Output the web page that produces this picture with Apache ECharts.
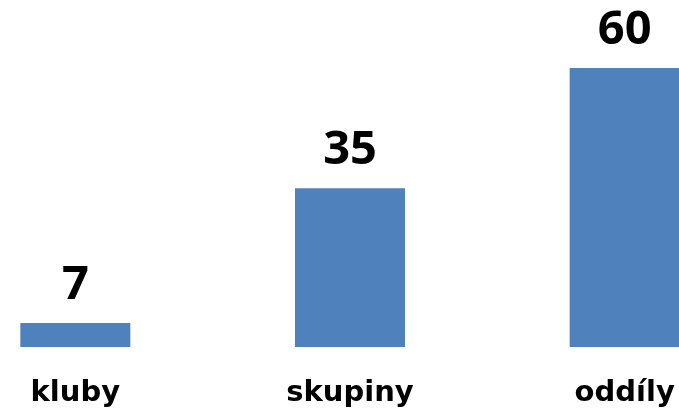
<!DOCTYPE html>
<html>
<head>
<meta charset="utf-8">
<script src="https://cdn.jsdelivr.net/npm/echarts@6/dist/echarts.min.js"></script>
<style>
  html, body { margin: 0; padding: 0; background: #fff; }
  #chart { width: 679px; height: 411px; }
</style>
</head>
<body>
<div id="chart"></div>
<script>
var categories = ["kluby", "skupiny", "oddíly"];
var counts = [7, 35, 60];

var myChart = echarts.init(document.getElementById("chart"));
var option = {
  animation: false,
  grid: { left: -62, width: 824, top: 68, bottom: 64, outerBoundsMode: "none", containLabel: false },
  xAxis: {
    type: "category",
    data: categories,
    axisLine: { show: false },
    axisTick: { show: false },
    axisLabel: {
      margin: 32,
      color: "#000",
      fontFamily: "DejaVu Sans",
      fontWeight: "bold",
      fontSize: 29
    }
  },
  yAxis: {
    type: "value",
    min: 2,
    max: 60,
    show: false,
    splitLine: { show: false }
  },
  series: [
    {
      type: "bar",
      data: counts,
      barWidth: 110,
      itemStyle: { color: "#4F81BD" },
      label: {
        show: true,
        position: "top",
        distance: 14,
        color: "#000",
        fontFamily: "Open Sans",
        fontWeight: "bold",
        fontSize: 47
      }
    }
  ]
};
// 使用刚指定的配置项和数据显示图表。
myChart.setOption(option);
</script>
</body>
</html>
